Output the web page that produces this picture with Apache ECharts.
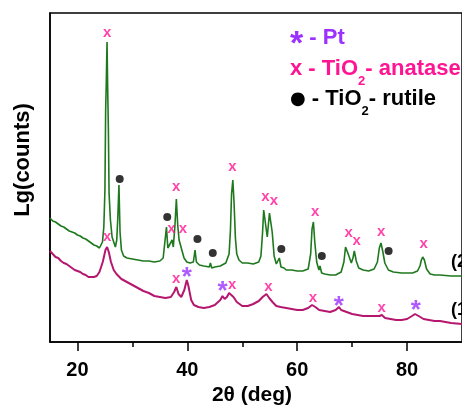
<!DOCTYPE html>
<html><head><meta charset="utf-8">
<script src="https://cdn.jsdelivr.net/npm/echarts@6/dist/echarts.min.js"></script>
<style>html,body{margin:0;padding:0;background:#fff}#c{width:462px;height:405px}</style>
</head><body><div id="c"></div>
<script>
// 2theta (deg) values and intensity (arbitrary log units) for sample (2) - green
const green2theta = [15.0,15.5,16.0,16.5,17.0,17.5,18.0,18.5,19.0,19.5,20.0,20.5,21.0,21.5,22.0,22.5,23.0,23.5,24.0,24.3,24.55,24.8,25.0,25.13,25.23,25.38,25.5,25.63,25.75,26.0,26.3,26.9,27.15,27.35,27.55,27.75,28.0,28.4,29.0,30.0,31.0,32.0,33.0,34.0,35.0,35.6,35.95,36.2,36.45,36.8,37.23,37.45,37.75,38.0,38.25,38.5,38.77,39.0,39.4,39.9,40.5,41.1,41.4,41.65,42.2,43.0,44.0,44.2,44.45,45.0,46.0,47.0,47.6,47.85,48.05,48.28,48.5,48.75,49.0,49.4,50.0,51.0,52.0,53.0,53.4,53.7,53.9,54.05,54.55,54.95,55.15,55.45,55.8,56.2,56.5,56.75,57.05,57.6,58.0,59.0,60.0,61.0,62.0,62.45,62.7,62.95,63.2,63.55,63.95,64.15,64.45,65.0,66.0,67.0,68.0,68.5,68.8,69.05,69.35,69.85,70.15,70.4,70.75,71.2,72.0,73.0,74.0,74.6,74.95,75.25,75.6,75.95,76.15,76.6,77.5,79.0,80.0,81.0,81.9,82.35,82.6,82.85,83.15,83.55,84.2,85.0,86.0,88.0,90.0];
const greenCounts = [124,121,120,118,116,115,113,111,110,109,107,106,104,103,101,99,97,96,94,95,100,115,152,232,255,300,254,212,149,122,105,95,102,125,157,110,92,86,84,83,82,81,81,80,81,84,102,115,94,92,102,95,117,143,117,102,104,92,84,80,79,80,92,80,77,76,75,79,74,75,76,79,88,112,148,162,140,104,88,82,79,79,78,80,86,110,132,134,105,129,130,110,86,78,79,84,75,74,72,72,71,71,73,88,113,120,100,80,72,76,69,68,67,67,70,80,95,97,87,79,84,91,81,74,72,71,73,80,94,99,90,79,80,72,70,69,69,69,71,76,82,85,82,73,68,67,67,66,66];
// sample (1) - magenta
const mag2theta = [15.0,15.5,16.0,16.5,17.0,17.5,18.0,18.5,19.0,19.5,20.0,20.5,21.0,21.5,22.0,22.5,23.0,23.5,24.0,24.6,25.1,25.4,25.7,26.1,26.6,27.1,28.0,29.0,30.0,31.0,32.0,33.0,34.0,35.0,36.0,37.0,37.6,38.0,38.4,38.9,39.45,39.9,40.2,40.7,41.2,42.0,43.0,44.0,45.0,46.0,46.4,46.8,47.2,47.6,47.9,48.4,49.0,50.0,51.0,52.0,53.0,53.7,54.4,54.9,55.5,56.2,57.0,58.0,59.0,60.0,61.0,62.0,62.7,63.3,64.0,65.0,66.0,67.0,67.6,68.0,69.0,70.0,71.0,72.0,73.0,74.0,75.0,75.4,76.0,77.0,78.0,79.0,80.0,80.9,81.45,82.1,83.0,84.0,85.0,86.0,88.0,90.0];
const magCounts = [91,88,85,84,81,79,78,76,74,72,71,70,68,67,65,65,65,66,70,80,92,95,90,80,72,68,63,60,57,54,51,49,46,45,44,45,50,55,48,45,52,62,56,42,37,35,34,35,37,42,46,43,45,49,51,45,40,36,36,38,41,45,48,44,40,36,35,34,33,32,32,34,37,35,32,31,30,32,35,32,30,28,27,26,26,26,26,27,24,23,22,22,23,26,28,26,23,22,21,21,19,18];
// phase markers: [2theta, height]
const anataseOn2 = [[25.4,309],[37.1,113],[37.99,155],[39.18,113],[48.23,175],[54.22,145],[55.74,141],[63.27,130],[69.36,109],[70.83,101],[75.27,110],[83.03,98]];
const rutileOn2 = [[27.69,163],[36.34,125],[41.84,103],[44.63,89],[57.11,93],[64.48,86],[76.64,91]];
const anataseOn1 = [[25.39,105],[37.99,63],[48.18,57],[54.75,55],[62.84,44],[75.39,34]];
const ptOn1 = [[39.89,69],[46.4,55],[67.58,40],[81.61,36]];
const xTickLabels = [20,40,60,80];
const xMinorTicks = [30,50,70];

const FONT = '"Liberation Sans", Arial, sans-serif';
const PINK = '#ff1493', PURPLE = '#9b30ff', GREEN = '#1e781e', MAG = '#b5176f';
const chart = echarts.init(document.getElementById('c'), null, {renderer:'canvas'});
const zip = (a,b)=>a.map((v,i)=>[v,b[i]]);
const markerLabel = (txt, color, size, dy)=>({show:true, position:'inside', formatter:txt, color:color, fontSize:size, fontWeight:'bold', fontFamily:FONT, offset:[0,dy]});
chart.setOption({
  animation:false,
  grid:{left:50, top:13, width:422, height:329, show:true, borderColor:'#000', borderWidth:1.5, backgroundColor:'transparent'},
  xAxis:[{type:'value', min:15, max:90, interval:5,
    axisLine:{lineStyle:{color:'#000', width:1.5}},
    axisTick:{show:true, length:9, lineStyle:{color:'#000', width:1.5}, customValues:xTickLabels},
    axisLabel:{show:true, customValues:xTickLabels, margin:18, color:'#000', fontSize:20, fontWeight:'bold', fontFamily:FONT},
    splitLine:{show:false}},
   {type:'value', min:15, max:90, interval:5, position:'bottom',
    axisLine:{show:false},
    axisTick:{show:true, length:5, lineStyle:{color:'#000', width:1.5}, customValues:xMinorTicks},
    axisLabel:{show:false}, splitLine:{show:false}}],
  yAxis:{type:'value', min:0, max:329, axisLine:{show:true, lineStyle:{color:'#000', width:1.5}}, axisTick:{show:false}, axisLabel:{show:false}, splitLine:{show:false}},
  series:[
    {type:'line', data:zip(mag2theta, magCounts), showSymbol:false, lineStyle:{color:MAG, width:2}, z:2},
    {type:'line', data:zip(green2theta, greenCounts), showSymbol:false, lineStyle:{color:GREEN, width:1.6}, z:2},
    {type:'scatter', data:anataseOn2, symbolSize:1, itemStyle:{color:'transparent'}, label:markerLabel('x', PINK, 15, 0), z:3},
    {type:'scatter', data:anataseOn1, symbolSize:1, itemStyle:{color:'transparent'}, label:markerLabel('x', PINK, 15, 0), z:3},
    {type:'scatter', data:ptOn1, symbolSize:1, itemStyle:{color:'transparent'}, label:markerLabel('*', PURPLE, 26, 5), z:3},
    {type:'scatter', data:rutileOn2, symbol:'circle', symbolSize:8, itemStyle:{color:'#000'}, z:3}
  ],
  graphic:[
    {type:'text', x:23, y:160, rotation:Math.PI/2, style:{text:'Lg(counts)', font:'bold 22px '+FONT, fill:'#000', align:'center', verticalAlign:'middle', textAlign:'center', textVerticalAlign:'middle'}},
    {type:'text', x:252, y:395, style:{text:'2θ (deg)', font:'bold 21px '+FONT, fill:'#000', align:'center', verticalAlign:'middle', textAlign:'center', textVerticalAlign:'middle'}},
    {type:'text', x:290, y:38, style:{text:'{a|*}{b| - Pt}', align:'left', verticalAlign:'middle', textAlign:'left', textVerticalAlign:'middle',
      rich:{a:{fontSize:34, fontWeight:'bold', fontFamily:FONT, fill:PURPLE, padding:[14,0,0,0]}, b:{fontSize:22, fontWeight:'bold', fontFamily:FONT, fill:PURPLE}}}},
    {type:'text', x:290, y:69, style:{text:'{b|x - TiO}{s|2}{b|- anatase}', align:'left', verticalAlign:'middle', textAlign:'left', textVerticalAlign:'middle',
      rich:{b:{fontSize:22, fontWeight:'bold', fontFamily:FONT, fill:PINK, lineHeight:22}, s:{fontSize:13, fontWeight:'bold', fontFamily:FONT, fill:PINK, lineHeight:13, padding:[24,0,0,0]}}}},
    {type:'text', x:290, y:99, style:{text:'{d|●}{b| - TiO}{s|2}{b|- rutile}', align:'left', verticalAlign:'middle', textAlign:'left', textVerticalAlign:'middle',
      rich:{d:{fontSize:18, fontFamily:'"DejaVu Sans", sans-serif', fill:'#000', lineHeight:22}, b:{fontSize:22, fontWeight:'bold', fontFamily:FONT, fill:'#000', lineHeight:22}, s:{fontSize:13, fontWeight:'bold', fontFamily:FONT, fill:'#000', lineHeight:13, padding:[24,0,0,0]}}}},
    {type:'text', x:451, y:262, style:{text:'(2)', font:'bold 18px '+FONT, fill:'#000', align:'left', verticalAlign:'middle', textAlign:'left', textVerticalAlign:'middle'}},
    {type:'text', x:451, y:310, style:{text:'(1)', font:'bold 18px '+FONT, fill:'#000', align:'left', verticalAlign:'middle', textAlign:'left', textVerticalAlign:'middle'}}
  ]
});
</script></body></html>
